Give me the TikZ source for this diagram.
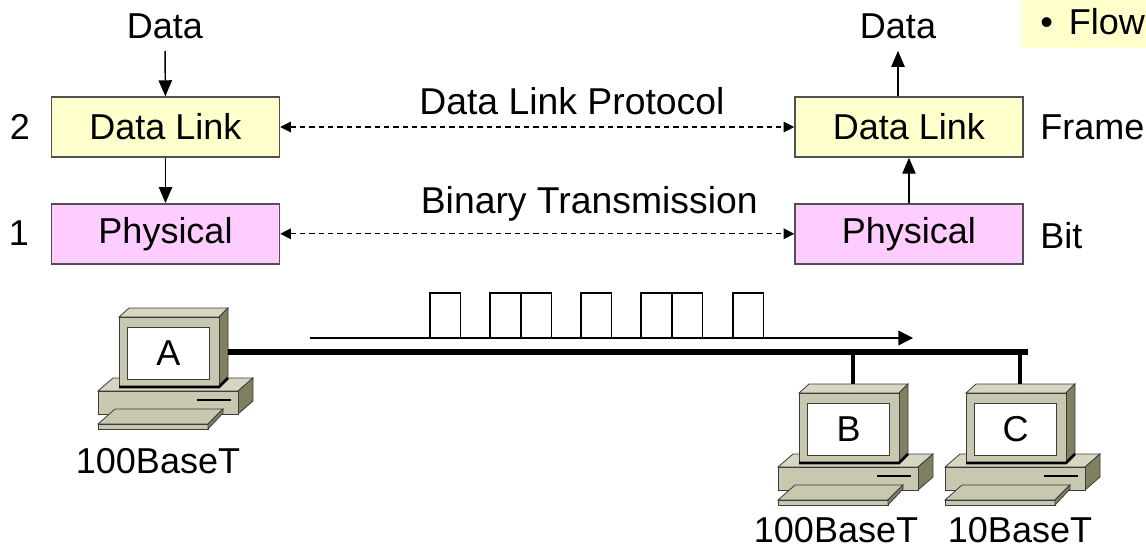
\documentclass[tikz,border=0pt]{standalone}
\usepackage{fontspec}
\setmainfont{Liberation Sans}
\usetikzlibrary{positioning, arrows.meta}

\definecolor{linkfill}{HTML}{FFFFCC}
\definecolor{physfill}{HTML}{FFCCFF}
\definecolor{boxline}{HTML}{505050}
\definecolor{pcfront}{HTML}{C8C8B0}
\definecolor{pctop}{HTML}{D6D6C2}
\definecolor{pcside}{HTML}{808060}
\definecolor{pcline}{HTML}{3C3C3C}

\begin{document}
\begin{tikzpicture}[
        x=0.75pt, y=-0.75pt,
        font=\fontsize{27}{32}\selectfont,
        every node/.style={inner sep=0pt},
        layer/.style={rectangle, draw=boxline, line width=1.1pt, minimum width=171pt, minimum height=45pt, align=center},
        peerlabel/.style={font=\fontsize{28}{33}\selectfont},
        arrow/.style={-{Triangle[length=12pt, width=10pt]}, line width=1.1pt},
        peer/.style={{Triangle[length=8pt, width=8pt]}-{Triangle[length=8pt, width=8pt]}, dashed, dash pattern=on 4pt off 3pt, line width=0.8pt},
        bus/.style={line width=4.5pt},
        pulse/.style={line width=1.3pt},
        pcedge/.style={draw=pcline, line width=0.6pt},
        screen/.style={rectangle, draw=pcline, line width=0.6pt, fill=white, minimum width=62pt, minimum height=39pt},
        pc/.pic={
            % base unit
            \filldraw[pcedge, fill=pctop] (-21,74) -- (-6,61) -- (134,61) -- (119,74) -- cycle;
            \filldraw[pcedge, fill=pcside] (119,74) -- (134,61) -- (134,84) -- (119,97) -- cycle;
            \filldraw[pcedge, fill=pcfront] (-21,74) rectangle (119,97);
            \draw[line width=1.5pt] (78,83) -- (112,83);
            % monitor
            \filldraw[pcedge, fill=pctop] (0,0) -- (10,-9) -- (109,-9) -- (100,0) -- cycle;
            \filldraw[pcedge, fill=pcside] (100,0) -- (109,-9) -- (109,60) -- (100,69) -- cycle;
            \filldraw[pcedge, fill=pcfront] (0,0) rectangle (100,69);
            \draw[line width=2pt] (0,70) -- (100,70) -- (109,61);
            \node[screen] (-scr) at (49.5,36) {#1};
            % keyboard
            \filldraw[pcedge, fill=pcfront] (-4,92) -- (104,92) -- (89,107) -- (-21,107) -- cycle;
            \filldraw[pcedge, fill=pcfront] (-21,107) -- (89,107) -- (89,112) -- (-21,112) -- cycle;
            \filldraw[pcedge, fill=pcside] (89,107) -- (104,92) -- (104,96) -- (89,112) -- cycle;
            \coordinate (-port) at (109,35);
            \coordinate (-top) at (54,-9);
        }
      ]
        \useasboundingbox (0,0) rectangle (1146,554);
        \clip (0,0) rectangle (1146,554);

        % Flow note (top right)
        \fill[linkfill] (1021,0) rectangle (1170,48);
        \node[anchor=west] (flow) at (1040,22) {•\hspace{12pt}Flow};

        % Left stack
        \node[layer, fill=linkfill] (dlA) at (165.5,127) {Data Link};
        \node[layer, fill=physfill, below=34pt of dlA] (phA) {Physical};
        \node (inA) at (165,26) {Data};
        \node (n2) at (20,127) {2};
        \node (n1) at (19,233) {1};

        % Right stack
        \node[layer, fill=linkfill, right=385.5pt of dlA] (dlB) {Data Link};
        \node[layer, fill=physfill, below=34pt of dlB] (phB) {Physical};
        \node (outB) at (898,26) {Data};
        \node[anchor=west] (frame) at (1040,127) {Frame};
        \node[anchor=west] (bit) at (1040,236) {Bit};

        % Arrows
        \draw[arrow, shorten <=9pt] (inA) -- (dlA);
        \draw[arrow] (dlA) -- (phA);
        \draw[arrow] (phB) -- (dlB);
        \draw[arrow, shorten >=9pt] (dlB.north -| outB) -- (outB);

        % Peer protocols
        \draw[peer] (dlA) -- (dlB) node[peerlabel, midway, above=9pt, xshift=26pt] (proto) {Data Link Protocol};
        \draw[peer] (phA) -- (phB) node[peerlabel, midway, above=9pt, xshift=39pt] (trans) {Binary Transmission};

        % Bit stream
        \coordinate (sigstart) at (310,338);
        \coordinate (sigend) at (913,338);
        \draw[-{Triangle[length=11pt, width=11pt]}, line width=1.1pt] (sigstart) -- (sigend);
        \foreach \x in {430,490,521,581,641,672,733}
            \draw[pulse] (\x,293) rectangle ++(30.5,45);

        % Stations
        \pic (pcA) at (119,317) {pc=A};
        \pic (pcB) at (799,393) {pc=B};
        \pic (pcC) at (966,393) {pc=C};
        \node (lblA) at (158,461) {100BaseT};
        \node (lblB) at (836,530) {100BaseT};
        \node (lblC) at (1020,530) {10BaseT};

        % Cable
        \coordinate (busend) at (1028,353);
        \draw[bus] (pcA-port) -- (pcA-port -| busend);
        \draw[line width=3.5pt] (pcB-top) -- (pcB-top |- busend);
        \draw[line width=3.5pt] (pcC-top) -- (pcC-top |- busend);
      \end{tikzpicture}
\end{document}
